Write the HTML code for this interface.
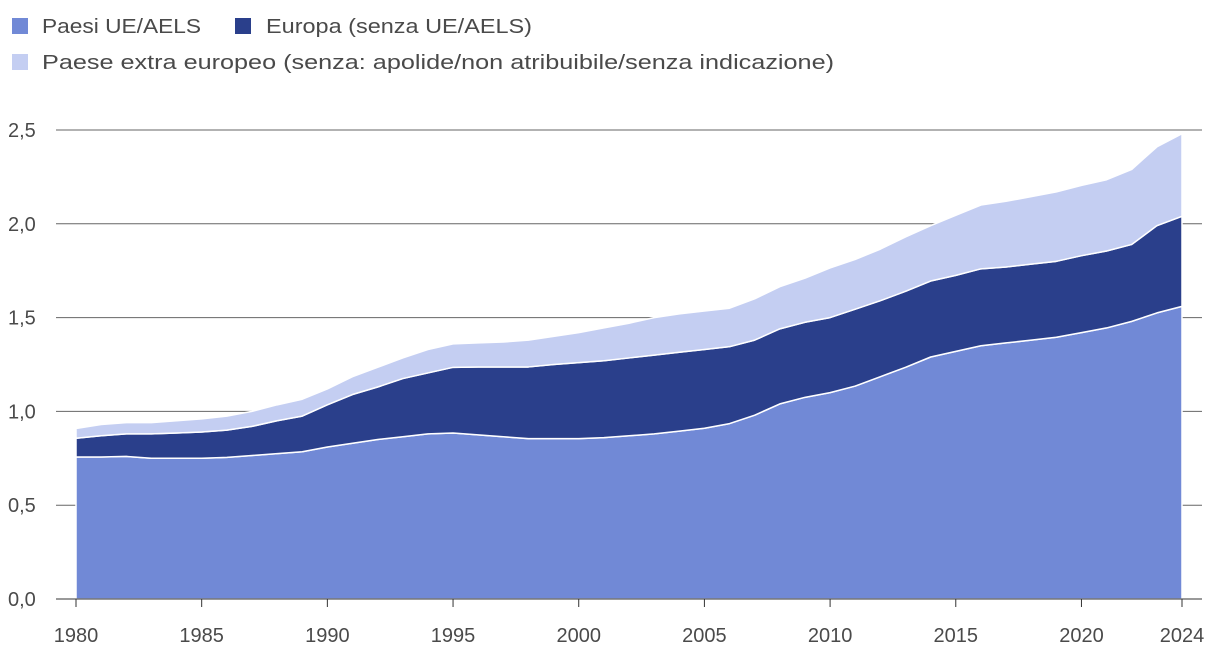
<!DOCTYPE html>
<html><head><meta charset="utf-8"><style>
body{margin:0;background:#fff;font-family:"Liberation Sans",sans-serif;}
svg text{font-family:"Liberation Sans",sans-serif;fill:#4a4a4a;}
</style></head><body>
<svg width="1220" height="666">
<g>
<rect x="12" y="18" width="16" height="16" fill="#7189d6"/>
<text x="42" y="33" font-size="20" textLength="159" lengthAdjust="spacingAndGlyphs">Paesi UE/AELS</text>
<rect x="235" y="18" width="16" height="16" fill="#2a3f8b"/>
<text x="266" y="33" font-size="20" textLength="266" lengthAdjust="spacingAndGlyphs">Europa (senza UE/AELS)</text>
<rect x="12" y="54" width="16" height="16" fill="#c4cef2"/>
<text x="42" y="69" font-size="20" textLength="792" lengthAdjust="spacingAndGlyphs">Paese extra europeo (senza: apolide/non atribuibile/senza indicazione)</text>
</g>
<g id="grid"></g><g id="areas"></g><g id="axes"></g>
</svg>
<script>
const years=[];for(let y=1980;y<=2024;y++)years.push(y);
const euValues=[.757,.757,.76,.75,.75,.75,.755,.765,.775,.785,.81,.83,.85,.865,.88,.885,.875,.865,.855,.855,.855,.86,.87,.88,.895,.91,.935,.98,1.04,1.075,1.10,1.135,1.185,1.235,1.29,1.32,1.35,1.365,1.38,1.395,1.42,1.445,1.48,1.525,1.56];
const europeValues=[.10,.113,.12,.13,.135,.14,.145,.155,.175,.19,.225,.26,.28,.31,.325,.35,.362,.372,.382,.395,.405,.41,.415,.42,.42,.42,.41,.40,.40,.40,.40,.41,.405,.405,.405,.405,.41,.405,.405,.405,.41,.41,.41,.465,.48];
const extraValues=[.052,.06,.06,.06,.065,.07,.075,.08,.085,.09,.085,.095,.105,.11,.125,.125,.128,.133,.143,.15,.16,.175,.185,.20,.205,.205,.205,.22,.225,.235,.265,.265,.275,.29,.295,.32,.34,.35,.36,.37,.375,.38,.40,.42,.44];
const yTicks=[0,0.5,1,1.5,2,2.5];
const xTicks=[1980,1985,1990,1995,2000,2005,2010,2015,2020,2024];
const X=y=>76+(y-1980)*(1106/44), Y=v=>599-v*187.6;
const NS="http://www.w3.org/2000/svg";
function mk(t,a,p){const e=document.createElementNS(NS,t);for(const k in a)e.setAttribute(k,a[k]);p.appendChild(e);return e;}
const grid=document.getElementById('grid'),areas=document.getElementById('areas'),axes=document.getElementById('axes');
yTicks.forEach(v=>{
 const l=mk('line',{x1:56,x2:1202,y1:Y(v),y2:Y(v),stroke:v===0?'#333':'#666','stroke-width':1},grid);
 
 
 const t=mk('text',{x:8,y:Y(v)+7,'font-size':20},axes);t.textContent=v.toFixed(1).replace('.',',');
 
 
});
xTicks.forEach(y=>{
 const l=mk('line',{x1:X(y),x2:X(y),y1:599,y2:607,stroke:'#333'},axes);
 
 
 const t=mk('text',{x:X(y),y:642,'font-size':20,'text-anchor':'middle'},axes);t.textContent=y;
 
 
});
const series=[[euValues,'#7189d6','area-eu'],[europeValues,'#2a3f8b','area-europe'],[extraValues,'#c4cef2','area-extra']];
let base=years.map(()=>0);
series.forEach(([vals,col,name])=>{
 const top=base.map((b,i)=>b+vals[i]);
 let d='M'+years.map((y,i)=>X(y)+','+Y(top[i])).join('L');
 d+='L'+years.slice().reverse().map((y,j)=>X(y)+','+Y(base[years.length-1-j])).join('L')+'Z';
 const p=mk('path',{d:d,fill:col,stroke:'#fff','stroke-width':1.5,'stroke-linejoin':'round'},areas);
 
 
 base=top;
});
const a0=mk('line',{x1:56,x2:1202,y1:599,y2:599,stroke:'#333'},axes);


</script>
</body></html>
